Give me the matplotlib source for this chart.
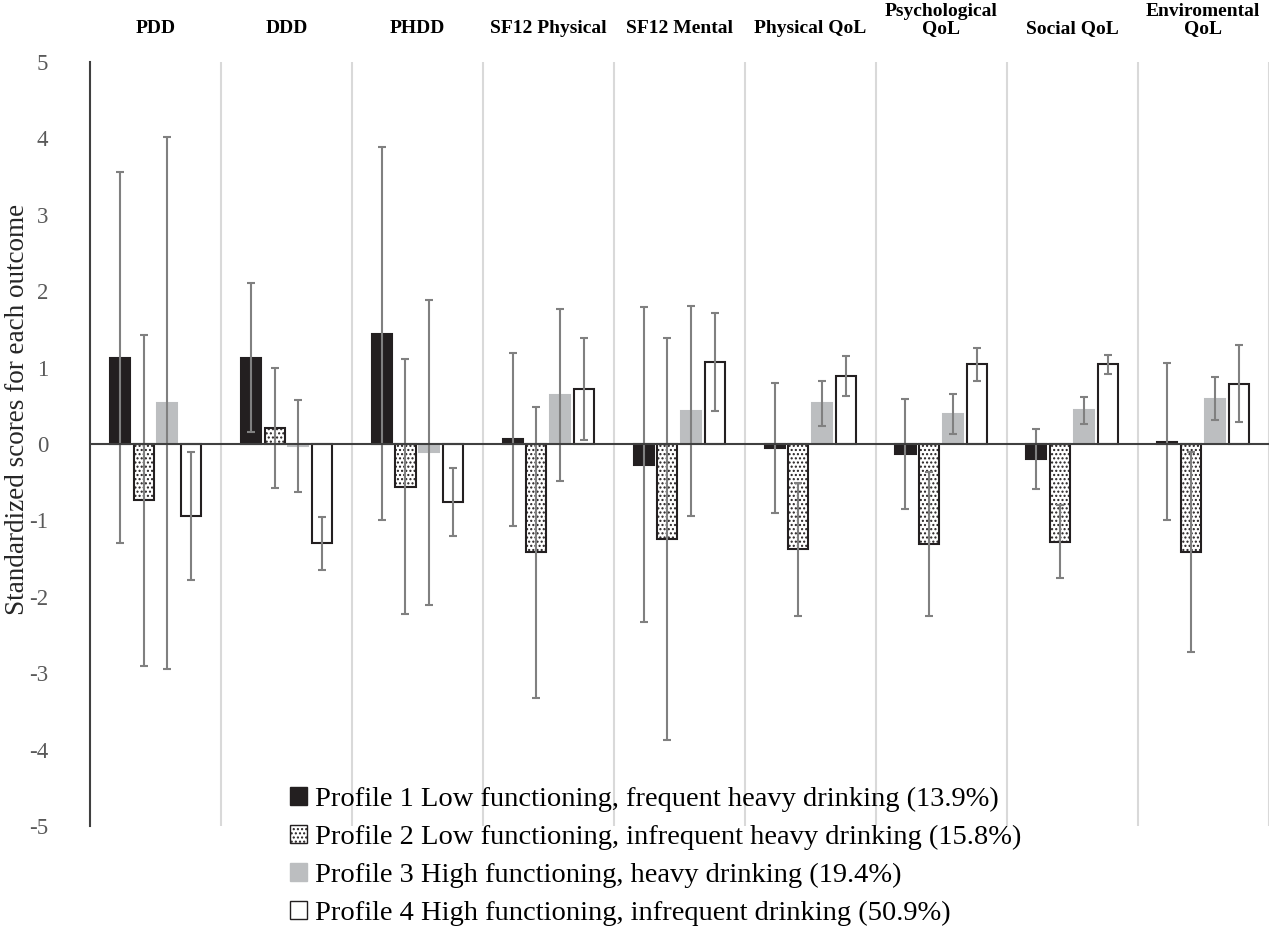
import numpy as np
import matplotlib.pyplot as plt
from matplotlib.patches import Patch

plt.rcParams['font.family'] = ['Liberation Serif', 'DejaVu Serif']
plt.rcParams['hatch.linewidth'] = 1.0
plt.rcParams['axes.unicode_minus'] = False

outcomes = ["PDD", "DDD", "PHDD", "SF12 Physical", "SF12 Mental", "Physical QoL",
            "Psychological\nQoL", "Social QoL", "Enviromental\nQoL"]

profile_names = [
    "Profile 1 Low functioning, frequent heavy drinking (13.9%)",
    "Profile 2 Low functioning, infrequent heavy drinking (15.8%)",
    "Profile 3 High functioning, heavy drinking (19.4%)",
    "Profile 4 High functioning, infrequent drinking (50.9%)",
]

# means per outcome
p1 = [1.13, 1.13, 1.44, 0.06, -0.27, -0.05, -0.13, -0.20, 0.03]
p2 = [-0.74, 0.21, -0.56, -1.42, -1.24, -1.38, -1.31, -1.28, -1.41]
p3 = [0.54, -0.03, -0.11, 0.64, 0.43, 0.53, 0.39, 0.44, 0.59]
p4 = [-0.94, -1.30, -0.76, 0.72, 1.07, 0.89, 1.04, 1.04, 0.79]

# error bar half-lengths
e1 = [2.43, 0.97, 2.44, 1.13, 2.06, 0.85, 0.72, 0.39, 1.03]
e2 = [2.17, 0.79, 1.67, 1.90, 2.63, 0.87, 0.94, 0.48, 1.31]
e3 = [3.48, 0.60, 2.00, 1.12, 1.37, 0.30, 0.26, 0.18, 0.28]
e4 = [0.84, 0.35, 0.45, 0.67, 0.64, 0.26, 0.21, 0.13, 0.50]

means = [p1, p2, p3, p4]
errs = [e1, e2, e3, e4]
faces = ['#231f20', 'white', '#bcbec0', 'white']
edges = ['#231f20', '#231f20', '#bcbec0', '#231f20']
hatches = [None, '....', None, None]

fig = plt.figure(figsize=(12.75, 9.38), dpi=100)
ax = fig.add_axes([0.0706, 0.1194, 0.9244, 0.8146])

x = np.arange(len(outcomes))
step = 0.182
width = 0.153
for k in range(4):
    xs = x + (k - 1.5) * step
    ax.bar(xs, means[k], width, color=faces[k], edgecolor=edges[k],
           hatch=hatches[k], linewidth=1.5, zorder=3)
    ax.errorbar(xs, means[k], yerr=errs[k], fmt='none', ecolor='#808080',
                elinewidth=1.5, capsize=3, capthick=1.5, zorder=4)

ax.axhline(0, color='#404040', lw=1.5, zorder=5)
for b in np.arange(0.5, len(outcomes), 1):
    ax.axvline(b, color='#d9d9d9', lw=1.5, zorder=1)

ax.set_xlim(-0.5, len(outcomes) - 0.5)
ax.set_ylim(-5, 5)
ax.set_yticks(range(-5, 6))
ax.set_xticks([])
ax.tick_params(axis='y', length=0, pad=30, labelsize=16.5, labelcolor='#595959')
for s in ['top', 'right', 'bottom']:
    ax.spines[s].set_visible(False)
ax.spines['left'].set_color('#404040')
ax.spines['left'].set_linewidth(1.5)
ax.set_ylabel("Standardized scores for each outcome", fontsize=19.5, color='#262626')
ax.yaxis.set_label_coords(-0.0505, 0.545)

for i, name in enumerate(outcomes):
    ax.text(i, 1.033, name, transform=ax.get_xaxis_transform(), ha='center', va='bottom',
            fontsize=14, fontweight='bold', linespacing=1.0)

handles = [Patch(facecolor=faces[k], edgecolor=edges[k], hatch=hatches[k], linewidth=1.0)
           for k in range(4)]
fig.legend(handles, profile_names, loc='upper left', bbox_to_anchor=(0.216, 0.176),
           frameon=False, fontsize=20.5, handlelength=0.6, handleheight=0.6,
           handletextpad=0.3, labelspacing=0.45, borderpad=0)

fig.savefig('out.png', dpi=100)
